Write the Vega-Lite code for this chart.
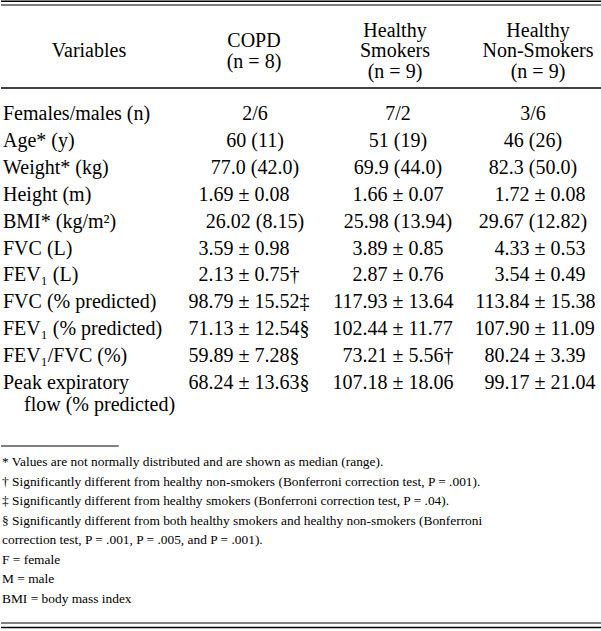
{
  "$schema": "https://vega.github.io/schema/vega-lite/v6.json",
  "width": 601,
  "height": 631,
  "padding": 0,
  "autosize": {"type": "fit", "contains": "padding"},
  "background": "white",
  "config": {"view": {"stroke": null}, "text": {"font": "Liberation Serif", "color": "black"}},
  "datasets": {
    "rules": [
      {"row": -4, "x0": 0, "x1": 1, "weight": "heavy"},
      {"row": -3, "x0": 0, "x1": 1, "weight": "thin"},
      {"row": -1, "x0": 0, "x1": 1, "weight": "medium"},
      {"row": 11, "x0": 0, "x1": 0.196, "weight": "thin"},
      {"row": 20, "x0": 0, "x1": 1, "weight": "thin"},
      {"row": 21, "x0": 0, "x1": 1, "weight": "heavy"}
    ],
    "header": [
      {"row": -2, "col": 0, "text": ["Variables"]},
      {"row": -2, "col": 1, "text": ["COPD", "(n = 8)"]},
      {"row": -2, "col": 2, "text": ["Healthy", "Smokers", "(n = 9)"]},
      {"row": -2, "col": 3, "text": ["Healthy", "Non-Smokers", "(n = 9)"]}
    ],
    "body": [
      {"row": 0, "col": 0, "text": "Females/males (n)"},
      {"row": 0, "col": 1, "text": "2/6"},
      {"row": 0, "col": 2, "text": "7/2"},
      {"row": 0, "col": 3, "text": "3/6"},
      {"row": 1, "col": 0, "text": "Age* (y)"},
      {"row": 1, "col": 1, "text": "60 (11)"},
      {"row": 1, "col": 2, "text": "51 (19)"},
      {"row": 1, "col": 3, "text": "46 (26)"},
      {"row": 2, "col": 0, "text": "Weight* (kg)"},
      {"row": 2, "col": 1, "text": "77.0 (42.0)"},
      {"row": 2, "col": 2, "text": "69.9 (44.0)"},
      {"row": 2, "col": 3, "text": "82.3 (50.0)"},
      {"row": 3, "col": 0, "text": "Height (m)"},
      {"row": 3, "col": 1, "mean": "1.69", "sd": "0.08"},
      {"row": 3, "col": 2, "mean": "1.66", "sd": "0.07"},
      {"row": 3, "col": 3, "mean": "1.72", "sd": "0.08"},
      {"row": 4, "col": 0, "text": "BMI* (kg/m²)"},
      {"row": 4, "col": 1, "text": "26.02 (8.15)"},
      {"row": 4, "col": 2, "text": "25.98 (13.94)"},
      {"row": 4, "col": 3, "text": "29.67 (12.82)"},
      {"row": 5, "col": 0, "text": "FVC (L)"},
      {"row": 5, "col": 1, "mean": "3.59", "sd": "0.98"},
      {"row": 5, "col": 2, "mean": "3.89", "sd": "0.85"},
      {"row": 5, "col": 3, "mean": "4.33", "sd": "0.53"},
      {"row": 6, "col": 0, "text": "FEV₁ (L)"},
      {"row": 6, "col": 1, "mean": "2.13", "sd": "0.75†"},
      {"row": 6, "col": 2, "mean": "2.87", "sd": "0.76"},
      {"row": 6, "col": 3, "mean": "3.54", "sd": "0.49"},
      {"row": 7, "col": 0, "text": "FVC (% predicted)"},
      {"row": 7, "col": 1, "mean": "98.79", "sd": "15.52‡"},
      {"row": 7, "col": 2, "mean": "117.93", "sd": "13.64"},
      {"row": 7, "col": 3, "mean": "113.84", "sd": "15.38"},
      {"row": 8, "col": 0, "text": "FEV₁ (% predicted)"},
      {"row": 8, "col": 1, "mean": "71.13", "sd": "12.54§"},
      {"row": 8, "col": 2, "mean": "102.44", "sd": "11.77"},
      {"row": 8, "col": 3, "mean": "107.90", "sd": "11.09"},
      {"row": 9, "col": 0, "text": "FEV₁/FVC (%)"},
      {"row": 9, "col": 1, "mean": "59.89", "sd": "7.28§"},
      {"row": 9, "col": 2, "mean": "73.21", "sd": "5.56†"},
      {"row": 9, "col": 3, "mean": "80.24", "sd": "3.39"},
      {"row": 10, "col": 0, "text": "Peak expiratory", "cont": "flow (% predicted)"},
      {"row": 10, "col": 1, "mean": "68.24", "sd": "13.63§"},
      {"row": 10, "col": 2, "mean": "107.18", "sd": "18.06"},
      {"row": 10, "col": 3, "mean": "99.17", "sd": "21.04"}
    ],
    "notes": [
      {"row": 12, "col": 0, "text": "* Values are not normally distributed and are shown as median (range)."},
      {"row": 13, "col": 0, "text": "† Significantly different from healthy non-smokers (Bonferroni correction test, P = .001)."},
      {"row": 14, "col": 0, "text": "‡ Significantly different from healthy smokers (Bonferroni correction test, P = .04)."},
      {"row": 15, "col": 0, "text": "§ Significantly different from both healthy smokers and healthy non-smokers (Bonferroni"},
      {"row": 16, "col": 0, "text": "correction test, P = .001, P = .005, and P = .001)."},
      {"row": 17, "col": 0, "text": "F = female"},
      {"row": 18, "col": 0, "text": "M = male"},
      {"row": 19, "col": 0, "text": "BMI = body mass index"}
    ]
  },
  "encoding": {
    "y": {
      "field": "row",
      "type": "quantitative",
      "axis": null,
      "scale": {
        "domain": [-4, -3, -2, -1, 0, 10, 11, 12, 19, 20, 21],
        "range": [1.3, 5, 51, 88, 120, 389, 446, 466, 603, 623, 627.5],
        "nice": false,
        "zero": false
      }
    }
  },
  "resolve": {"scale": {"x": "independent"}},
  "layer": [
    {
      "data": {"name": "rules"},
      "mark": {"type": "rule", "color": "black"},
      "encoding": {
        "x": {"field": "x0", "type": "quantitative", "axis": null, "scale": {"domain": [0, 1], "range": [0, 601], "nice": false, "zero": false}},
        "x2": {"field": "x1"},
        "strokeWidth": {"field": "weight", "type": "ordinal", "legend": null, "scale": {"domain": ["thin", "medium", "heavy"], "range": [1, 1.6, 2.6]}}
      }
    },
    {
      "data": {"name": "header"},
      "transform": [{"filter": "length(datum.text) == 1"}],
      "mark": {"type": "text", "align": "center", "baseline": "middle", "fontSize": 20, "lineHeight": 20.5},
      "encoding": {
        "x": {"field": "col", "type": "quantitative", "axis": null, "scale": {"domain": [0, 1, 2, 3], "range": [88, 253, 394, 537], "nice": false, "zero": false}},
        "text": {"field": "text"}
      }
    },
    {
      "data": {"name": "header"},
      "transform": [{"filter": "length(datum.text) == 2"}],
      "mark": {"type": "text", "align": "center", "baseline": "middle", "fontSize": 20, "lineHeight": 21, "dy": -10.5},
      "encoding": {
        "x": {"field": "col", "type": "quantitative", "axis": null, "scale": {"domain": [0, 1, 2, 3], "range": [88, 253, 394, 537], "nice": false, "zero": false}},
        "text": {"field": "text"}
      }
    },
    {
      "data": {"name": "header"},
      "transform": [{"filter": "length(datum.text) == 3"}],
      "mark": {"type": "text", "align": "center", "baseline": "middle", "fontSize": 20, "lineHeight": 20.5, "dy": -20.5},
      "encoding": {
        "x": {"field": "col", "type": "quantitative", "axis": null, "scale": {"domain": [0, 1, 2, 3], "range": [88, 253, 394, 537], "nice": false, "zero": false}},
        "text": {"field": "text"}
      }
    },
    {
      "data": {"name": "body"},
      "transform": [{"filter": "datum.col == 0"}],
      "mark": {"type": "text", "align": "left", "baseline": "alphabetic", "fontSize": 20},
      "encoding": {
        "x": {"field": "col", "type": "quantitative", "axis": null, "scale": {"domain": [0, 1], "range": [2, 601], "nice": false, "zero": false}},
        "text": {"field": "text"}
      }
    },
    {
      "data": {"name": "body"},
      "transform": [{"filter": "datum.cont != null"}],
      "mark": {"type": "text", "align": "left", "baseline": "alphabetic", "fontSize": 20, "dx": 21, "dy": 22},
      "encoding": {
        "x": {"field": "col", "type": "quantitative", "axis": null, "scale": {"domain": [0, 1], "range": [2, 601], "nice": false, "zero": false}},
        "text": {"field": "cont"}
      }
    },
    {
      "data": {"name": "body"},
      "transform": [{"filter": "datum.col > 0 && datum.text != null"}],
      "mark": {"type": "text", "align": "center", "baseline": "alphabetic", "fontSize": 20},
      "encoding": {
        "x": {"field": "col", "type": "quantitative", "axis": null, "scale": {"domain": [1, 2, 3], "range": [254, 397, 532], "nice": false, "zero": false}},
        "text": {"field": "text"}
      }
    },
    {
      "data": {"name": "body"},
      "transform": [{"filter": "datum.sd != null"}],
      "mark": {"type": "text", "align": "center", "baseline": "alphabetic", "fontSize": 20},
      "encoding": {
        "x": {"field": "col", "type": "quantitative", "axis": null, "scale": {"domain": [1, 2, 3], "range": [243, 397, 539], "nice": false, "zero": false}},
        "text": {"value": "±"}
      }
    },
    {
      "data": {"name": "body"},
      "transform": [{"filter": "datum.sd != null"}],
      "mark": {"type": "text", "align": "right", "baseline": "alphabetic", "fontSize": 20, "dx": -10.5},
      "encoding": {
        "x": {"field": "col", "type": "quantitative", "axis": null, "scale": {"domain": [1, 2, 3], "range": [243, 397, 539], "nice": false, "zero": false}},
        "text": {"field": "mean"}
      }
    },
    {
      "data": {"name": "body"},
      "transform": [{"filter": "datum.sd != null"}],
      "mark": {"type": "text", "align": "left", "baseline": "alphabetic", "fontSize": 20, "dx": 10.5},
      "encoding": {
        "x": {"field": "col", "type": "quantitative", "axis": null, "scale": {"domain": [1, 2, 3], "range": [243, 397, 539], "nice": false, "zero": false}},
        "text": {"field": "sd"}
      }
    },
    {
      "data": {"name": "notes"},
      "mark": {"type": "text", "align": "left", "baseline": "alphabetic", "fontSize": 13.4},
      "encoding": {
        "x": {"field": "col", "type": "quantitative", "axis": null, "scale": {"domain": [0, 1], "range": [1, 601], "nice": false, "zero": false}},
        "text": {"field": "text"}
      }
    }
  ]
}
